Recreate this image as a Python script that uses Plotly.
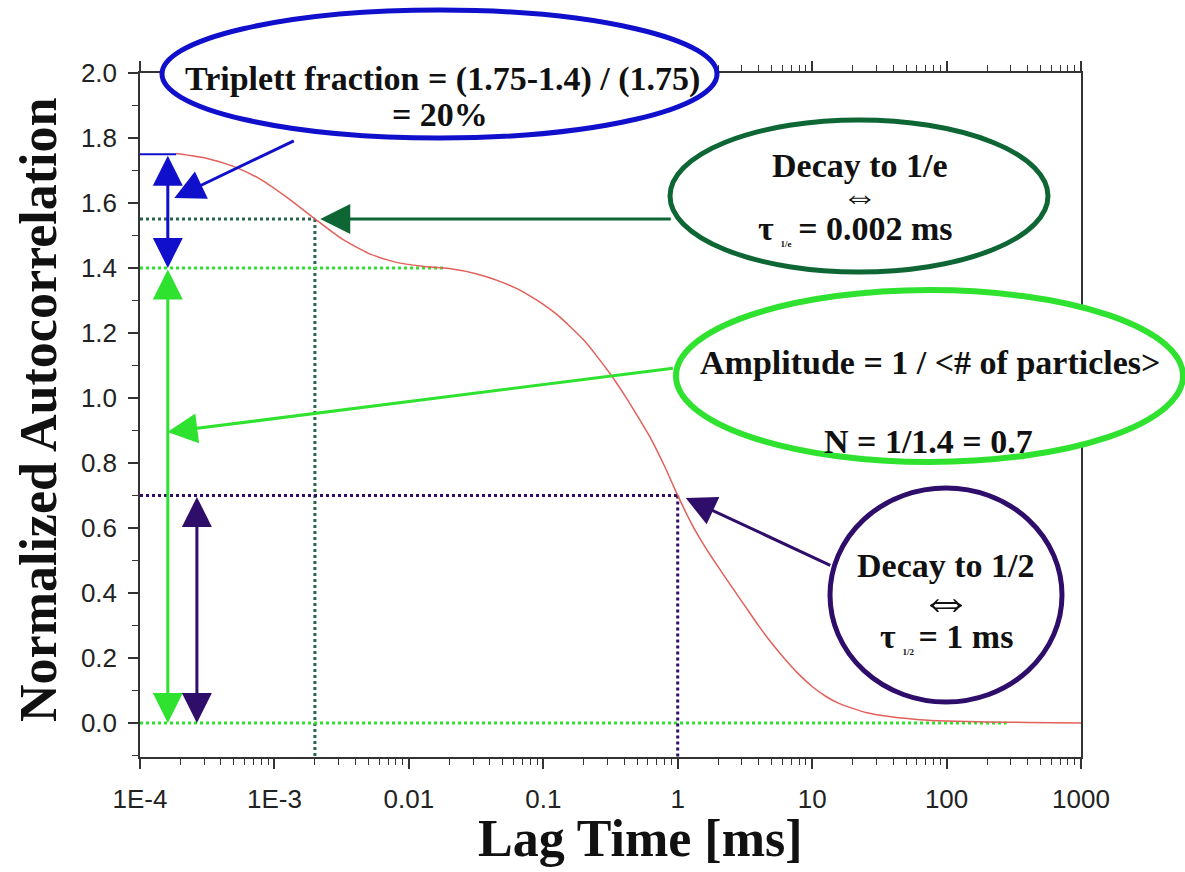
import math
import plotly.graph_objects as go

# ---- data ----
tau_ms = [1.86e-4, 3.16e-4, 5.01e-4, 7.94e-4, 1.26e-3, 2.0e-3, 3.16e-3, 5.01e-3, 7.94e-3,
          1.26e-2, 2.0e-2, 3.16e-2, 5.01e-2, 6.31e-2, 7.94e-2, 0.1, 0.126, 0.158, 0.2,
          0.251, 0.316, 0.398, 0.501, 0.631, 0.794, 1.0, 1.26, 1.58, 2.0, 2.51, 3.16,
          3.98, 5.01, 6.31, 7.94, 10.0, 12.6, 15.8, 25.1, 39.8, 63.1, 100.0, 200.0,
          398.0, 1000.0]
g_tau = [1.752, 1.737, 1.712, 1.672, 1.615, 1.551, 1.49, 1.445, 1.418,
         1.405, 1.398, 1.382, 1.355, 1.337, 1.314, 1.288, 1.257, 1.22, 1.178,
         1.128, 1.073, 1.012, 0.945, 0.875, 0.792, 0.70, 0.615, 0.545, 0.48, 0.42, 0.36,
         0.30, 0.245, 0.195, 0.15, 0.112, 0.082, 0.06, 0.032, 0.018, 0.010, 0.006, 0.003,
         0.0015, 0.0]

g_start = 1.75          # initial amplitude
g_plateau = 1.40        # plateau after triplet decay
tau_1e = 0.002          # triplet decay time (ms)
g_1e = 1.551
tau_half = 1.0          # diffusion time (ms)
g_half = 0.70
plateau_end = 0.018
zero_end = 280.0

x_tickvals = [1e-4, 1e-3, 1e-2, 1e-1, 1, 10, 100, 1000]
x_ticktext = ["1E-4", "1E-3", "0.01", "0.1", "1", "10", "100", "1000"]
y_tickvals = [0.0, 0.2, 0.4, 0.6, 0.8, 1.0, 1.2, 1.4, 1.6, 1.8, 2.0]
y_ticktext = ["0.0", "0.2", "0.4", "0.6", "0.8", "1.0", "1.2", "1.4", "1.6", "1.8", "2.0"]

x_min, x_max = 1e-4, 1000
y_min, y_max = -0.105, 2.0

# ---- colours ----
RED = "#e2605a"
BLUE = "#1010cc"
DKGREEN = "#0d6634"
DKGREEN_DOT = "#27664a"
GREEN = "#2fe22f"
PURPLE = "#2e0d6b"
AXIS = "#333333"

W, H = 1185, 872
ML, MR, MT, MB = 140, 104, 73, 115
PW, PH = W - ML - MR, H - MT - MB


def px(xp):
    return (xp - ML) / PW


def py(yp):
    return (H - MB - yp) / PH


fig = go.Figure()

dot_lines = [
    ([x_min, tau_1e], [g_1e, g_1e], DKGREEN_DOT),
    ([tau_1e, tau_1e], [g_1e, y_min], DKGREEN_DOT),
    ([x_min, plateau_end], [g_plateau, g_plateau], GREEN),
    ([x_min, zero_end], [0, 0], GREEN),
    ([x_min, tau_half], [g_half, g_half], PURPLE),
    ([tau_half, tau_half], [g_half, y_min], PURPLE),
]
for xs, ys, c in dot_lines:
    fig.add_trace(go.Scatter(x=xs, y=ys, mode="lines",
                             line=dict(color=c, width=3, dash="dot"),
                             showlegend=False, hoverinfo="skip"))

fig.add_trace(go.Scatter(x=tau_ms, y=g_tau, mode="lines",
                         line=dict(color=RED, width=1.5, shape="spline", smoothing=0.6),
                         showlegend=False))

fig.add_trace(go.Scatter(x=[x_min, tau_ms[0]], y=[g_start, g_start], mode="lines",
                         line=dict(color=BLUE, width=2), showlegend=False))

TICKFONT = dict(family="Liberation Sans, Arial", size=26, color="#222")
fig.update_xaxes(type="log", range=[math.log10(x_min), math.log10(x_max)],
                 tickvals=x_tickvals, ticktext=x_ticktext, automargin=False,
                 ticks="outside", ticklen=10, tickwidth=1.5, tickcolor=AXIS,
                 ticklabelstandoff=8,
                 showline=True, linecolor=AXIS, linewidth=1.5, mirror="ticks",
                 showgrid=False, zeroline=False,
                 minor=dict(ticks="outside", ticklen=6, tickwidth=1.2, tickcolor=AXIS,
                            dtick="D1", showgrid=False),
                 tickfont=TICKFONT)
fig.update_yaxes(range=[y_min, y_max], tickvals=y_tickvals, ticktext=y_ticktext,
                 automargin=False,
                 ticks="outside", ticklen=10, tickwidth=1.5, tickcolor=AXIS,
                 ticklabelstandoff=6,
                 showline=True, linecolor=AXIS, linewidth=1.5, mirror=True,
                 showgrid=False, zeroline=False,
                 minor=dict(ticks="outside", ticklen=6, tickwidth=1.2, tickcolor=AXIS,
                            dtick=0.1, showgrid=False),
                 tickfont=TICKFONT)

# ---- ellipses ----
ellipses = [
    (162, 717, 10, 138, BLUE, 5),
    (670, 1048, 120, 272, DKGREEN, 5),
    (676, 1183, 290, 462, GREEN, 6),
    (830, 1062, 488, 702, PURPLE, 5),
]
shapes = []
for x0, x1, y0, y1, c, w in ellipses:
    shapes.append(dict(type="circle", xref="paper", yref="paper",
                       x0=px(x0), x1=px(x1), y0=py(y1), y1=py(y0),
                       line=dict(color=c, width=w), fillcolor="white", layer="above"))

SERIF = "Liberation Serif, Times New Roman"
SUB = "<sub><span style='font-size:9px'>%s</span></sub>"
texts = [
    ("<b>Triplett fraction = (1.75-1.4) / (1.75)</b>", 442, 79, 34, 0),
    ("<b>= 20%</b>", 440, 114, 34, 0),
    ("<b>Decay to 1/e</b>", 860, 165, 34, 0),
    ("⇔", 860, 196, 36, 0),
    ("<b>τ" + SUB % "&nbsp;&nbsp;&nbsp;1/e&nbsp;&nbsp;&nbsp;" + "= 0.002 ms</b>", 855, 229, 34, 0),
    ("<b>Amplitude = 1 / &lt;# of particles&gt;</b>", 930, 362, 34, 0),
    ("<b>N = 1/1.4 = 0.7</b>", 928, 441, 34, 0),
    ("<b>Decay to 1/2</b>", 946, 565, 34, 0),
    ("⇔", 946, 600, 54, 0),
    ("<b>τ" + SUB % "&nbsp;&nbsp;&nbsp;1/2&nbsp;&nbsp;" + "= 1 ms</b>", 946, 637, 34, 0),
    ("<b>Lag Time [ms]</b>", 640, 838, 52, 0),
    ("<b>Normalized Autocorrelation</b>", 38, 410, 52, -90),
]
annotations = []
for t, xp, yp, s, rot in texts:
    annotations.append(dict(text=t, xref="paper", yref="paper", x=px(xp), y=py(yp),
                            showarrow=False, xanchor="center", yanchor="middle",
                            textangle=rot,
                            font=dict(family=SERIF, size=s, color="#111")))

L = math.log10
# pointer arrows: head in data coords, tail as pixel offset
pointers = [
    (L(1.8e-4), 1.615, 121, -58, BLUE),
    (L(tau_1e) + 0.04, g_1e, 352, 0, DKGREEN),
    (L(1.6e-4), 0.895, 507, -64, GREEN),
    (L(tau_half) + 0.06, 0.692, 146, 68, PURPLE),
]
for hx, hy, ax, ay, c in pointers:
    annotations.append(dict(x=hx, y=hy, xref="x", yref="y", ax=ax, ay=ay,
                            axref="pixel", ayref="pixel", text="", showarrow=True,
                            arrowhead=2, arrowsize=2.0, arrowwidth=3, arrowcolor=c))

# double arrows
doubles = [
    (L(1.61e-4), g_plateau, g_start, BLUE),
    (L(1.61e-4), 0.0, g_plateau, GREEN),
    (L(2.65e-4), 0.0, g_half, PURPLE),
]
for xx, y0, y1, c in doubles:
    annotations.append(dict(x=xx, y=y0, ax=xx, ay=y1, xref="x", yref="y",
                            axref="x", ayref="y", text="", showarrow=True,
                            arrowhead=2, startarrowhead=2, arrowside="end+start",
                            arrowsize=2.0, startarrowsize=2.0, arrowwidth=3, arrowcolor=c))

fig.update_layout(width=W, height=H, margin=dict(l=ML, r=MR, t=MT, b=MB, autoexpand=False),
                  plot_bgcolor="white", paper_bgcolor="white",
                  shapes=shapes, annotations=annotations, showlegend=False)

fig.write_html("out.html", config={"displayModeBar": False},
               post_script="document.body.style.margin='0';document.body.style.overflow='hidden';")
